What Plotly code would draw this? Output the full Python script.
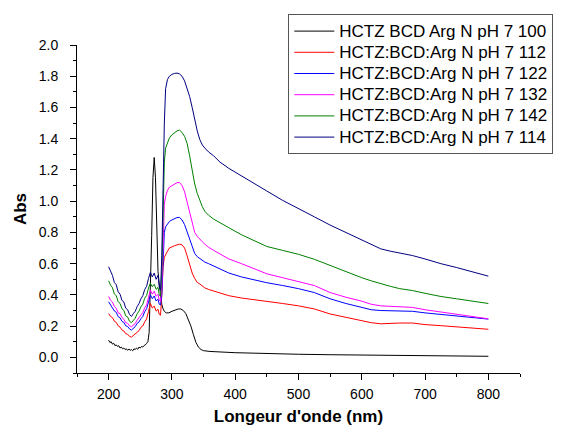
import plotly.graph_objects as go

# Wavelength grid (nm) shared by the HCTZ:BCD:Arg mixtures
wavelength = [200, 203, 206, 209, 212, 215, 218, 221, 224, 227, 230, 233, 236, 239,
              242, 245, 248, 251, 254, 257, 260, 263, 266, 269, 272, 275, 278, 280,
              282, 284, 286, 288, 290, 293, 296, 300, 304, 308, 312, 316, 320, 324,
              328, 332, 336, 340, 344, 348, 352, 358, 366, 376, 390, 410, 430, 450,
              475, 500, 525, 550, 575, 600, 615, 630, 645, 660, 680, 700, 725, 750,
              775, 800]

abs_112 = [0.28, 0.262, 0.255, 0.232, 0.224, 0.202, 0.194, 0.176, 0.169, 0.152, 0.148,
           0.134, 0.13, 0.141, 0.147, 0.163, 0.171, 0.193, 0.201, 0.228, 0.246, 0.294,
           0.345, 0.316, 0.328, 0.296, 0.308, 0.275, 0.27,
           0.40, 0.58, 0.64, 0.66, 0.68, 0.70, 0.71, 0.715, 0.72, 0.725, 0.72, 0.70,
           0.65, 0.59, 0.54, 0.505, 0.48, 0.47, 0.455, 0.445, 0.435, 0.425, 0.41, 0.395,
           0.38, 0.37, 0.36, 0.345, 0.33, 0.31, 0.278, 0.255, 0.235, 0.222, 0.215,
           0.218, 0.22, 0.22, 0.21, 0.203, 0.195, 0.188, 0.18]

abs_122 = [0.356, 0.337, 0.324, 0.297, 0.289, 0.261, 0.254, 0.231, 0.224, 0.202, 0.198,
           0.182, 0.175, 0.188, 0.197, 0.218, 0.227, 0.248, 0.262, 0.293, 0.311, 0.354,
           0.40, 0.376, 0.393, 0.361, 0.373, 0.34, 0.335,
           0.40, 0.60, 0.80, 0.836, 0.855, 0.87, 0.88, 0.89, 0.895, 0.896, 0.88, 0.85,
           0.80, 0.75, 0.70, 0.665, 0.645, 0.632, 0.62, 0.61, 0.60, 0.585, 0.565, 0.54,
           0.515, 0.495, 0.478, 0.46, 0.44, 0.415, 0.375, 0.345, 0.32, 0.305, 0.30,
           0.298, 0.297, 0.295, 0.285, 0.275, 0.265, 0.255, 0.245]

abs_132 = [0.39, 0.366, 0.354, 0.326, 0.314, 0.286, 0.279, 0.256, 0.244, 0.222, 0.218,
           0.202, 0.196, 0.208, 0.217, 0.238, 0.252, 0.273, 0.287, 0.318, 0.336, 0.384,
           0.43, 0.405, 0.423, 0.391, 0.404, 0.365, 0.36,
           0.45, 0.75, 0.98, 1.03, 1.07, 1.09, 1.10, 1.11, 1.118, 1.12, 1.10, 1.06,
           0.99, 0.92, 0.855, 0.80, 0.775, 0.755, 0.74, 0.725, 0.705, 0.685, 0.66, 0.63,
           0.60, 0.565, 0.535, 0.51, 0.485, 0.46, 0.415, 0.385, 0.36, 0.34, 0.33,
           0.327, 0.325, 0.32, 0.305, 0.29, 0.275, 0.26, 0.247]

abs_142 = [0.49, 0.462, 0.447, 0.406, 0.396, 0.356, 0.346, 0.311, 0.301, 0.266, 0.259,
           0.231, 0.222, 0.238, 0.251, 0.279, 0.296, 0.324, 0.341, 0.379, 0.396, 0.444,
           0.475, 0.452, 0.468, 0.436, 0.448, 0.40, 0.39,
           0.55, 0.95, 1.25, 1.34, 1.38, 1.405, 1.425, 1.44, 1.45, 1.455, 1.44, 1.415,
           1.37, 1.29, 1.20, 1.11, 1.05, 1.005, 0.965, 0.935, 0.91, 0.885, 0.86, 0.83,
           0.785, 0.745, 0.71, 0.685, 0.66, 0.628, 0.588, 0.55, 0.51, 0.49, 0.47,
           0.455, 0.44, 0.428, 0.41, 0.39, 0.375, 0.36, 0.345]

abs_114 = [0.58, 0.55, 0.525, 0.48, 0.465, 0.42, 0.405, 0.365, 0.355, 0.315, 0.305,
           0.275, 0.262, 0.28, 0.295, 0.325, 0.345, 0.375, 0.395, 0.435, 0.455, 0.505,
           0.545, 0.515, 0.54, 0.50, 0.525, 0.45, 0.43,
           0.65, 1.10, 1.50, 1.72, 1.78, 1.80, 1.812, 1.818, 1.82, 1.815, 1.80, 1.77,
           1.72, 1.67, 1.60, 1.52, 1.45, 1.395, 1.36, 1.34, 1.315, 1.29, 1.25, 1.21,
           1.16, 1.11, 1.065, 1.005, 0.95, 0.90, 0.847, 0.80, 0.75, 0.72, 0.695,
           0.68, 0.668, 0.652, 0.63, 0.60, 0.575, 0.547, 0.52]

# HCTZ BCD Arg reference scan, sampled finer around the 272 nm band
wavelength_100 = [200, 202, 204, 206, 208, 210, 212, 214, 216, 218, 220, 222, 224, 226,
                  228, 230, 232, 234, 236, 238, 240, 242, 244, 246, 248, 250, 252, 254,
                  256, 258, 260, 262, 264, 266, 268, 270, 272, 274, 276, 278, 280, 282,
                  284, 286, 288, 291, 295, 300, 305, 310, 314, 318, 322, 326, 330, 334,
                  338, 342, 346, 350, 360, 400, 450, 500, 550, 600, 650, 700, 750, 800]
abs_100 = [0.11, 0.095, 0.10, 0.085, 0.09, 0.075, 0.08, 0.07, 0.075, 0.06, 0.066, 0.055,
           0.06, 0.05, 0.055, 0.045, 0.054, 0.045, 0.05, 0.042, 0.055, 0.05, 0.06, 0.052,
           0.066, 0.06, 0.07, 0.066, 0.076, 0.08, 0.09, 0.10, 0.16, 0.40, 0.78, 1.15,
           1.28, 1.15, 0.80, 0.55, 0.47, 0.40, 0.34, 0.31, 0.295, 0.285, 0.285, 0.295,
           0.305, 0.31, 0.31, 0.30, 0.28, 0.245, 0.20, 0.145, 0.095, 0.065, 0.05, 0.043,
           0.038, 0.030, 0.024, 0.02, 0.017, 0.014, 0.012, 0.010, 0.008, 0.007]

series = [
    ("HCTZ BCD Arg N pH 7 100", wavelength_100, abs_100, "#000000"),
    ("HCTZ:BCD:Arg N pH 7 112", wavelength, abs_112, "#FF0000"),
    ("HCTZ:BCD:Arg N pH 7 122", wavelength, abs_122, "#0000FF"),
    ("HCTZ:BCD:Arg N pH 7 132", wavelength, abs_132, "#FF00FF"),
    ("HCTZ:BCD:Arg N pH 7 142", wavelength, abs_142, "#008000"),
    ("HCTZ:BCD:Arg N pH 7 114", wavelength, abs_114, "#000080"),
]

FONT = "Arial, 'Liberation Sans', sans-serif"

fig = go.Figure()
for name, x, y, color in series:
    # legend rows are spaced from the 14px legend font; the label itself is drawn at 17px
    fig.add_trace(go.Scatter(x=x, y=y, mode="lines",
                             name=f"<span style='font-size:17px'>{name}</span>",
                             line=dict(color=color, width=1)))

axis_common = dict(
    showline=True, linecolor="black", linewidth=1, mirror=False,
    showgrid=False, zeroline=False, automargin=False,
    ticks="outside", ticklen=6, tickwidth=1, tickcolor="black",
    tickfont=dict(family=FONT, size=14, color="black"),
)

fig.update_layout(
    width=563, height=426,
    margin=dict(l=77, r=43, t=45, b=53, autoexpand=False),
    paper_bgcolor="white", plot_bgcolor="white",
    font=dict(family=FONT, color="black"),
    xaxis=dict(
        **axis_common,
        range=[150, 850], tick0=200, dtick=100,
        minor=dict(dtick=50, ticklen=3, tickcolor="black", ticks="outside"),
        ticklabelstandoff=2,
        title=dict(text="<b>Longeur d'onde (nm)</b>",
                   font=dict(family=FONT, size=17, color="black"), standoff=19),
    ),
    yaxis=dict(
        **axis_common,
        range=[-0.1, 2.0], tick0=0, dtick=0.2, tickformat=".1f",
        minor=dict(dtick=0.1, ticklen=3, tickcolor="black", ticks="outside"),
        ticklabelstandoff=9,
        title=dict(text="<b>Abs</b>",
                   font=dict(family=FONT, size=17, color="black"), standoff=7),
    ),
    legend=dict(
        x=0.477, y=1.093, xanchor="left", yanchor="top",
        bordercolor="#555555", borderwidth=1, bgcolor="white",
        font=dict(family=FONT, size=14, color="black"),
        itemwidth=40, tracegroupgap=0,
    ),
    showlegend=True,
)

fig.write_html("out.html")
